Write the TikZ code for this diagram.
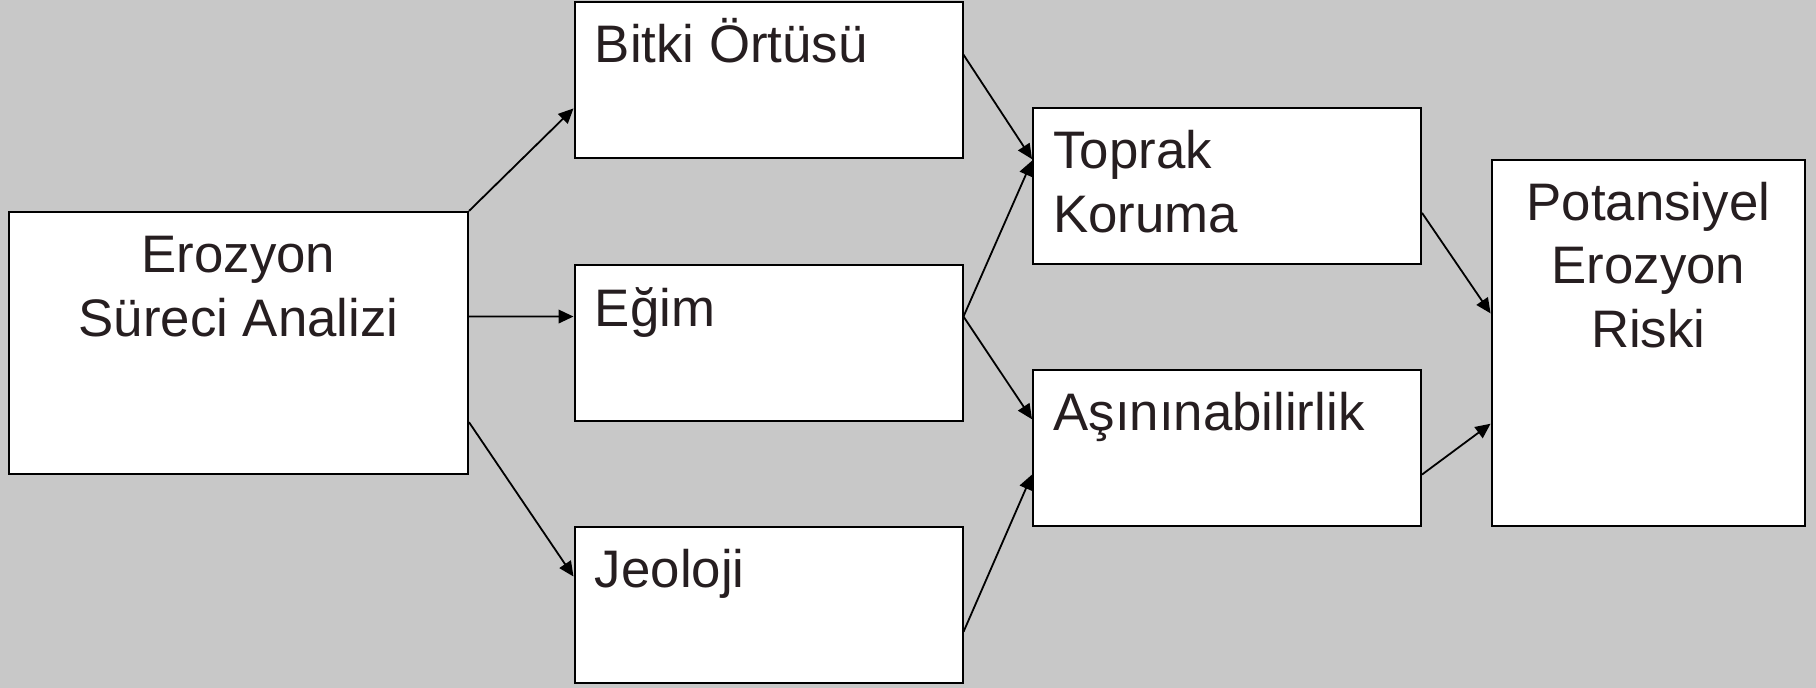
\documentclass[tikz,border=0pt]{standalone}
\usepackage{fontspec}
\setmainfont{Liberation Sans}
\usetikzlibrary{arrows.meta,calc}
\definecolor{bggray}{RGB}{200,200,200}
\definecolor{txt}{RGB}{38,30,32}
\tikzset{
  box/.style={draw=black,line width=1pt,fill=white,inner sep=0pt,anchor=center},
  lbl/.style={text=txt,font=\fontsize{26.4}{31.6}\selectfont,inner sep=0pt},
  conn/.style={line width=0.9pt,-{Triangle[length=7.5pt,width=6.8pt]}}
}
\begin{document}
\begin{tikzpicture}[x=0.5pt,y=-0.5pt]
\fill[bggray] (0,0) rectangle (1816,688);
\useasboundingbox (0,0) rectangle (1816,688);
% boxes
\node[box,minimum width=229.5pt,minimum height=131pt] (ero) at (238.5,343) {};
\node[box,minimum width=194pt,minimum height=78pt] (bit) at (768.5,80) {};
\node[box,minimum width=194pt,minimum height=78pt] (egim) at (768.5,343.4) {};
\node[box,minimum width=194pt,minimum height=78pt] (jeo) at (768.5,605) {};
\node[box,minimum width=194pt,minimum height=78pt] (top) at (1227,186) {};
\node[box,minimum width=194pt,minimum height=78pt] (asin) at (1227,447.7) {};
\node[box,minimum width=156.75pt,minimum height=183pt] (pot) at (1648.3,342.8) {};
% labels
\node[lbl,anchor=base] (eroT) at ($(ero.north)+(0,-31pt)$) {Erozyon};
\node[lbl,anchor=base] (eroT2) at ($(eroT.base)+(0,-31.6pt)$) {Süreci Analizi};
\node[lbl,anchor=base west] (bitT) at ($(bit.north west)+(10.5pt,-31pt)$) {Bitki Örtüsü};
\node[lbl,anchor=base west] (egimT) at ($(egim.north west)+(10.5pt,-31pt)$) {Eğim};
\node[lbl,anchor=base west] (jeoT) at ($(jeo.north west)+(10.5pt,-31pt)$) {Jeoloji};
\node[lbl,anchor=base west] (topT) at ($(top.north west)+(10.5pt,-31pt)$) {Toprak};
\node[lbl,anchor=base west] (topT2) at ($(topT.base west)+(0,-31.6pt)$) {Koruma};
\node[lbl,anchor=base west] (asinT) at ($(asin.north west)+(10.5pt,-31pt)$) {Aşınınabilirlik};
\node[lbl,anchor=base] (potT) at ($(pot.north)+(0,-31pt)$) {Potansiyel};
\node[lbl,anchor=base] (potT2) at ($(potT.base)+(0,-31.6pt)$) {Erozyon};
\node[lbl,anchor=base] (potT3) at ($(potT2.base)+(0,-31.6pt)$) {Riski};
% connectors
\draw[conn] (ero.north east) -- ($(bit.north west)!0.68!(bit.south west)$);
\draw[conn] ($(ero.north east)!0.4!(ero.south east)$) -- ($(egim.north west)!0.33!(egim.south west)$);
\draw[conn] ($(ero.north east)!0.8!(ero.south east)$) -- ($(jeo.north west)!0.32!(jeo.south west)$);
\draw[conn] ($(bit.north east)!0.34!(bit.south east)$) -- ($(top.north west)!0.33!(top.south west)$);
\draw[conn] ($(egim.north east)!0.33!(egim.south east)$) -- ($(top.north west)!0.34!(top.south west)$);
\draw[conn] ($(egim.north east)!0.33!(egim.south east)$) -- ($(asin.north west)!0.32!(asin.south west)$);
\draw[conn] ($(jeo.north east)!0.67!(jeo.south east)$) -- ($(asin.north west)!0.67!(asin.south west)$);
\draw[conn] ($(top.north east)!0.67!(top.south east)$) -- ($(pot.north west)!0.42!(pot.south west)$);
\draw[conn] ($(asin.north east)!0.67!(asin.south east)$) -- ($(pot.north west)!0.72!(pot.south west)$);
\end{tikzpicture}
\end{document}
